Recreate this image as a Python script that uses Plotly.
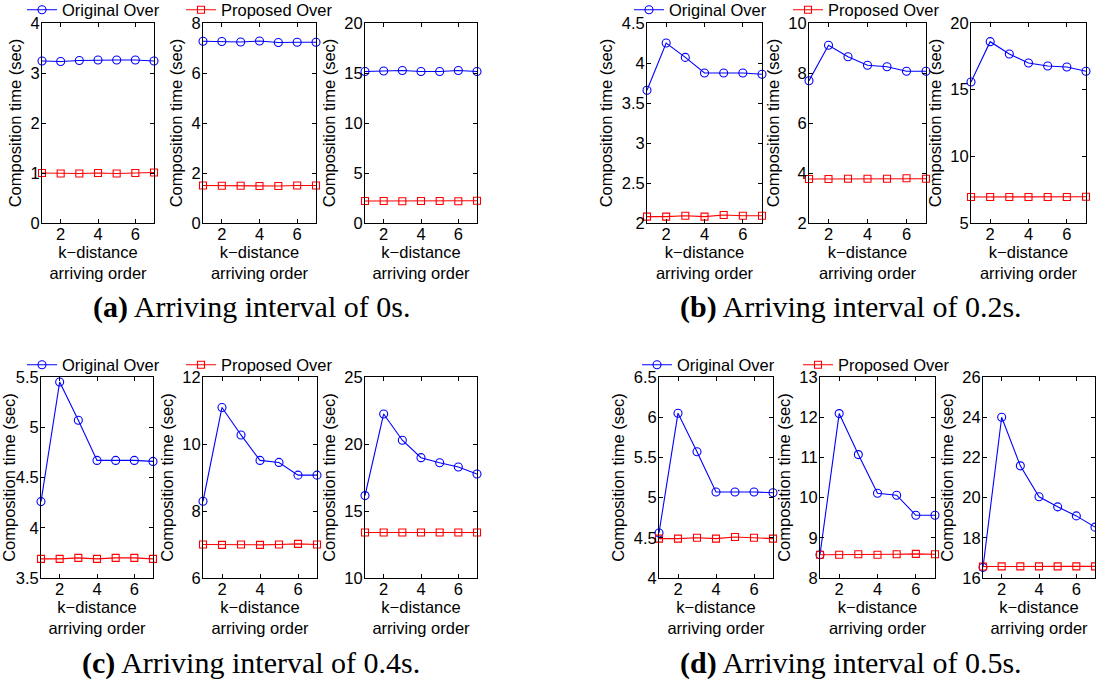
import plotly.graph_objects as go

W, H = 1096, 683

k_order = [1, 2, 3, 4, 5, 6, 7]
x_tick_vals = [2, 4, 6]

# (a) Arriving interval of 0s
a1_original = [3.24, 3.23, 3.25, 3.26, 3.26, 3.26, 3.24]
a1_proposed = [1.00, 0.99, 0.99, 1.00, 0.99, 1.00, 1.01]
a2_original = [7.27, 7.26, 7.24, 7.28, 7.22, 7.23, 7.23]
a2_proposed = [1.50, 1.49, 1.49, 1.48, 1.48, 1.50, 1.50]
a3_original = [15.15, 15.2, 15.25, 15.15, 15.15, 15.25, 15.15]
a3_proposed = [2.2, 2.2, 2.18, 2.2, 2.2, 2.17, 2.22]
# (b) Arriving interval of 0.2s
b1_original = [3.66, 4.25, 4.07, 3.875, 3.875, 3.875, 3.86]
b1_proposed = [2.08, 2.08, 2.09, 2.08, 2.10, 2.09, 2.09]
b2_original = [7.69, 9.11, 8.65, 8.31, 8.25, 8.07, 8.07]
b2_proposed = [3.76, 3.76, 3.77, 3.77, 3.77, 3.79, 3.77]
b3_original = [15.57, 18.6, 17.67, 17.0, 16.78, 16.7, 16.38]
b3_proposed = [6.95, 6.95, 6.95, 6.95, 6.95, 6.95, 6.97]
# (c) Arriving interval of 0.4s
c1_original = [4.26, 5.45, 5.07, 4.67, 4.67, 4.67, 4.66]
c1_proposed = [3.69, 3.69, 3.70, 3.69, 3.70, 3.70, 3.69]
c2_original = [8.29, 11.09, 10.27, 9.51, 9.45, 9.07, 9.07]
c2_proposed = [7.00, 6.99, 7.00, 6.99, 7.00, 7.02, 7.00]
c3_original = [16.15, 22.24, 20.28, 18.98, 18.6, 18.28, 17.76]
c3_proposed = [13.4, 13.4, 13.4, 13.4, 13.4, 13.4, 13.4]
# (d) Arriving interval of 0.5s
d1_original = [4.56, 6.05, 5.57, 5.07, 5.07, 5.07, 5.06]
d1_proposed = [4.49, 4.49, 4.50, 4.49, 4.51, 4.50, 4.49]
d2_original = [8.58, 12.09, 11.07, 10.11, 10.06, 9.56, 9.56]
d2_proposed = [8.58, 8.58, 8.59, 8.58, 8.59, 8.60, 8.59]
d3_original = [16.53, 24.0, 21.58, 20.04, 19.54, 19.09, 18.53]
d3_proposed = [16.57, 16.58, 16.58, 16.58, 16.58, 16.58, 16.58]

original_series = [a1_original, a2_original, a3_original,
                   b1_original, b2_original, b3_original,
                   c1_original, c2_original, c3_original,
                   d1_original, d2_original, d3_original]
proposed_series = [a1_proposed, a2_proposed, a3_proposed,
                   b1_proposed, b2_proposed, b3_proposed,
                   c1_proposed, c2_proposed, c3_proposed,
                   d1_proposed, d2_proposed, d3_proposed]

y_ranges = [[0, 4], [0, 8], [0, 20],
            [2, 4.5], [2, 10], [5, 20],
            [3.5, 5.5], [6, 12], [10, 25],
            [4, 6.5], [8, 13], [16, 26]]
y_dticks = [1, 2, 5, 0.5, 2, 5, 0.5, 2, 5, 0.5, 1, 2]

series_names = ["Original Over", "Proposed Over"]
captions = ["(a)", "(b)", "(c)", "(d)"]
caption_texts = ["Arriving interval of 0s.", "Arriving interval of 0.2s.",
                 "Arriving interval of 0.4s.", "Arriving interval of 0.5s."]
y_title = "Composition time (sec)"
x_title = "k\u2212distance<br>arriving order"

# layout geometry (pixels)
x_px = [(42, 154), (203, 316), (365, 477),
        (647, 762), (809, 926), (971, 1086),
        (41, 153), (203, 317), (365, 477),
        (659, 773), (820, 935), (983, 1095)]
row_y_px = [(23, 223), (23, 223), (377, 578), (377, 578)]

FONT = "Liberation Sans, Arial, sans-serif"
BLUE = "#0000FF"
RED = "#FF0000"

fig = go.Figure()
layout = dict(
    width=W, height=H, margin=dict(l=0, r=0, t=0, b=0, autoexpand=False),
    paper_bgcolor="white", plot_bgcolor="white",
    font=dict(family=FONT, size=16.5, color="black"),
    showlegend=True,
)

for i in range(12):
    g = i // 3
    n = i + 1
    xa = "x" if n == 1 else f"x{n}"
    ya = "y" if n == 1 else f"y{n}"
    leg_o = "legend" if g == 0 else f"legend{2 * g + 1}"
    leg_p = f"legend{2 * g + 2}"
    first = (i % 3 == 0)
    fig.add_trace(go.Scatter(
        x=k_order, y=original_series[i], xaxis=xa, yaxis=ya,
        mode="lines+markers", name=series_names[0],
        line=dict(color=BLUE, width=1.1),
        marker=dict(symbol="circle-open", size=8, color=BLUE, line=dict(width=1.1)),
        cliponaxis=False, showlegend=first, legend=leg_o,
    ))
    fig.add_trace(go.Scatter(
        x=k_order, y=proposed_series[i], xaxis=xa, yaxis=ya,
        mode="lines+markers", name=series_names[1],
        line=dict(color=RED, width=1.1),
        marker=dict(symbol="square-open", size=7, color=RED, line=dict(width=1.1)),
        cliponaxis=False, showlegend=first, legend=leg_p,
    ))
    x0, x1 = x_px[i]
    y0, y1 = row_y_px[g]
    xkey = "xaxis" if n == 1 else f"xaxis{n}"
    ykey = "yaxis" if n == 1 else f"yaxis{n}"
    layout[xkey] = dict(
        domain=[x0 / W, x1 / W], anchor=ya, range=[1, 7],
        tickvals=x_tick_vals, ticks="inside", ticklen=4, tickcolor="black",
        showline=True, linecolor="black", linewidth=1, mirror="ticks",
        showgrid=False, zeroline=False, ticklabelstandoff=-4,
        tickfont=dict(size=16.5, family=FONT, color="black"),
        title=dict(text=x_title, font=dict(size=16.5, family=FONT), standoff=0),
    )
    layout[ykey] = dict(
        domain=[1 - y1 / H, 1 - y0 / H], anchor=xa, range=y_ranges[i],
        tick0=y_ranges[i][0], dtick=y_dticks[i],
        ticks="inside", ticklen=4, tickcolor="black",
        showline=True, linecolor="black", linewidth=1, mirror="ticks",
        showgrid=False, zeroline=False, ticklabelstandoff=-2,
        tickfont=dict(size=16.5, family=FONT, color="black"),
        title=dict(text=y_title, font=dict(size=16.5, family=FONT), standoff=4),
    )

# legends: one per legend entry, placed above subplots
legend_pos_px = [(22, 10), (181, 10), (629, 10), (788, 10),
                 (22, 365), (181, 365), (637, 365), (798, 365)]
for j, (lx, ly) in enumerate(legend_pos_px):
    key = "legend" if j == 0 else f"legend{j + 1}"
    layout[key] = dict(
        x=lx / W, y=1 - ly / H, xanchor="left", yanchor="middle",
        bgcolor="rgba(0,0,0,0)", borderwidth=0, itemwidth=30,
        font=dict(size=16.5, family=FONT, color="black"),
        tracegroupgap=0,
    )

cap_pos_px = [(251, 307), (851, 307), (251, 663), (851, 663)]
annotations = []
for j, (cx, cy) in enumerate(cap_pos_px):
    annotations.append(dict(
        x=cx / W, y=1 - cy / H, xref="paper", yref="paper",
        xanchor="center", yanchor="middle", showarrow=False,
        text=f"<b>{captions[j]}</b> {caption_texts[j]}",
        font=dict(family="Liberation Serif, Times New Roman, serif", size=30, color="black"),
    ))
layout["annotations"] = annotations

fig.update_layout(**layout)
fig.write_html("out.html",
               config={"displayModeBar": False},
               post_script="document.body.style.margin='0px';document.body.style.overflow='hidden';")
